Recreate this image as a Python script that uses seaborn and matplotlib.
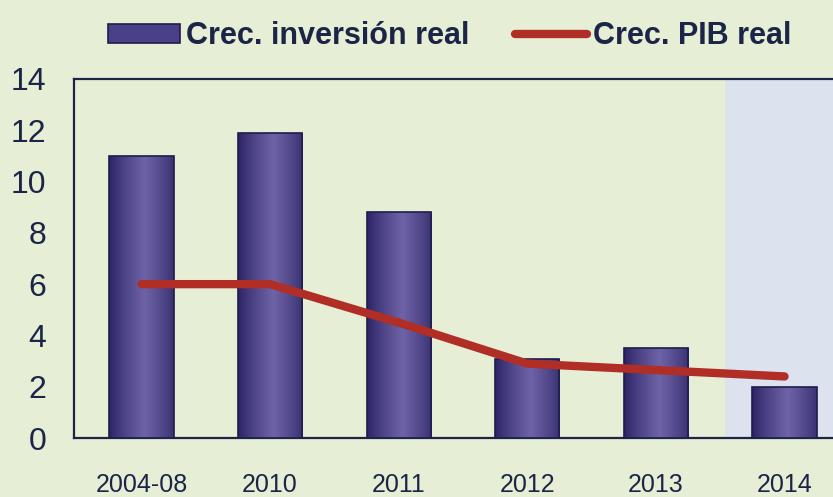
import numpy as np
import pandas as pd
import matplotlib
matplotlib.use("Agg")
import matplotlib.pyplot as plt
import seaborn as sns
from matplotlib.patches import Patch
from matplotlib.lines import Line2D

# Series
categories = ["2004-08", "2010", "2011", "2012", "2013", "2014"]
inversion_real = [11.0, 11.9, 8.8, 3.1, 3.5, 2.0]
pib_real = [6.0, 6.0, 4.5, 2.9, 2.65, 2.4]
y_ticks = [0, 2, 4, 6, 8, 10, 12, 14]

BG = "#e6eed5"
SHADE = "#dce3ee"
NAVY = "#1c2448"
BAR_EDGE = "#1e1c4c"
RED = "#b02e26"

sns.set_theme(style="white")
plt.rcParams["font.family"] = ["Liberation Sans", "DejaVu Sans"]

df = pd.DataFrame({"cat": categories, "inv": inversion_real, "pib": pib_real})

fig = plt.figure(figsize=(8.33, 4.97), dpi=100, facecolor=BG)
ax = fig.add_axes([74 / 833, 59 / 497, 1 - 74 / 833, 359 / 497])
ax.set_facecolor(BG)

sns.barplot(data=df, x="cat", y="inv", ax=ax, width=0.5, color="#3f3579",
            edgecolor=BAR_EDGE, linewidth=1.2, zorder=3)

# horizontal gradient fill on each bar (dark edges, lighter centre)
t = np.linspace(0, 1, 64)
shade = 1 - np.abs(t - 0.55) * 1.8
shade = np.clip(shade, 0, 1) ** 0.8
dark = np.array(matplotlib.colors.to_rgb("#2a2163"))
light = np.array(matplotlib.colors.to_rgb("#6d63a6"))
grad = dark[None, :] + (light - dark)[None, :] * shade[:, None]
grad = grad[None, :, :]
for p in list(ax.patches):
    x0, y0 = p.get_x(), p.get_y()
    w, h = p.get_width(), p.get_height()
    im = ax.imshow(grad, extent=[x0, x0 + w, y0, y0 + h], aspect="auto",
                   zorder=3.5, interpolation="bilinear")
    im.set_clip_path(p)
    p.set_facecolor("none")
    p.set_zorder(4)

sns.lineplot(x=np.arange(len(categories)), y=pib_real, ax=ax, color=RED,
             linewidth=6, solid_capstyle="round", solid_joinstyle="round",
             zorder=5)

ax.axvspan(4.535, 6, color=SHADE, zorder=0, linewidth=0)

ax.set_xlim(-0.525, 5.377)
ax.set_ylim(0, 14)
ax.set_yticks(y_ticks)
ax.set_yticklabels([str(v) for v in y_ticks], fontsize=23, color=NAVY)
ax.set_xticks(range(len(categories)))
ax.set_xticklabels(categories, fontsize=18, color=NAVY)
ax.tick_params(axis="y", length=0, pad=20)
ax.tick_params(axis="x", length=0, pad=25)
ax.set_xlabel("")
ax.set_ylabel("")
ax.grid(False)

for side in ["left", "top", "bottom"]:
    ax.spines[side].set_color(NAVY)
    ax.spines[side].set_linewidth(1.6)
ax.spines["right"].set_visible(False)

handles = [
    Patch(facecolor="#4a4088", edgecolor=BAR_EDGE, linewidth=1.2),
    Line2D([0], [0], color=RED, linewidth=6, solid_capstyle="round"),
]
labels = ["Crec. inversión real", "Crec. PIB real"]
fig.legend(handles, labels, loc="center", bbox_to_anchor=(450 / 833, 1 - 36 / 497),
           ncol=2, frameon=False, handlelength=2.35, handleheight=0.6,
           handletextpad=0.2, columnspacing=1.5,
           prop={"weight": "bold", "size": 22},
           labelcolor=NAVY)

fig.savefig("out.png", dpi=100, facecolor=BG)
